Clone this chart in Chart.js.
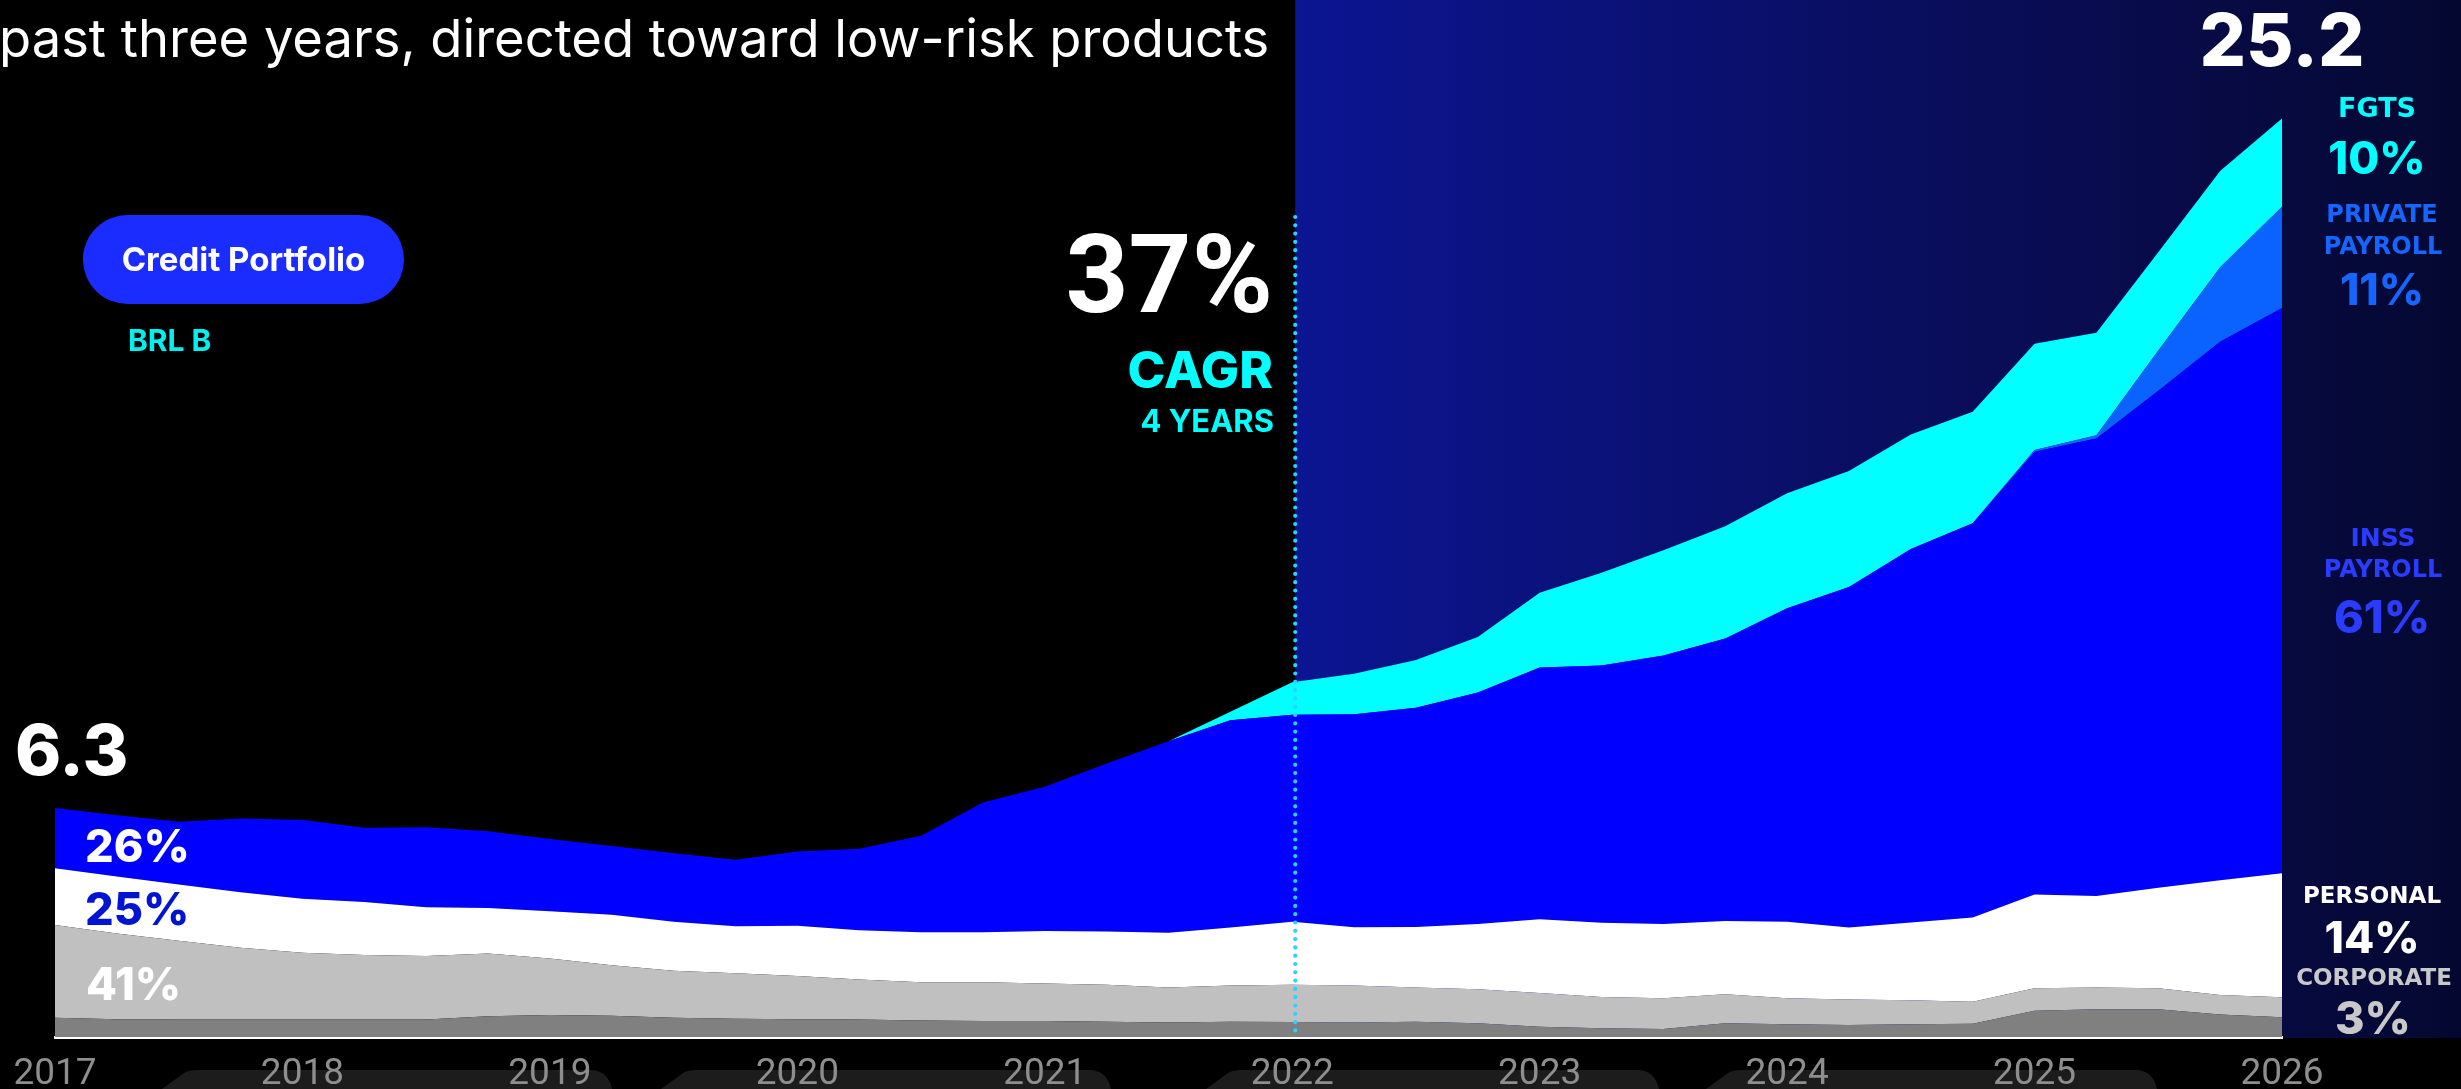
<!DOCTYPE html>
<html>
<head>
<meta charset="utf-8">
<script src="https://cdn.jsdelivr.net/npm/chart.js@4.4.1/dist/chart.umd.min.js"></script>
<style>
	html, body { margin: 0; padding: 0; background: #000; }
	#wrap { position: relative; width: 2461px; height: 1089px; }
</style>
</head>
<body>
<div id="wrap"><canvas id="portfolio"></canvas></div>
<script>
// |-----------|
// |   Data    |
// |-----------|

// quarters from 2017 Q1 to 2026 Q1 (37 points)
const periods = []
for (let y = 2017; y <= 2026; y++) {
	for (let q = 1; q <= 4; q++) {
		if (y === 2026 && q > 1) break
		periods.push(y + ' Q' + q)
	}
}

// BRL billions, stacked from the bottom
const otherCredit = [0.53, 0.49, 0.48, 0.48, 0.48, 0.48, 0.48, 0.57, 0.60, 0.58, 0.53, 0.50, 0.49, 0.48, 0.45, 0.44, 0.44, 0.42, 0.40, 0.42, 0.41, 0.40, 0.42, 0.38, 0.28, 0.24, 0.22, 0.38, 0.35, 0.33, 0.35, 0.36, 0.72, 0.76, 0.76, 0.62, 0.54]
const corporate = [2.54, 2.35, 2.16, 1.97, 1.83, 1.77, 1.74, 1.72, 1.55, 1.39, 1.29, 1.25, 1.18, 1.10, 1.05, 1.06, 1.03, 1.01, 0.96, 0.99, 1.02, 1.01, 0.94, 0.93, 0.93, 0.86, 0.84, 0.79, 0.71, 0.70, 0.66, 0.61, 0.62, 0.60, 0.58, 0.53, 0.55]
const personal = [1.56, 1.56, 1.54, 1.52, 1.48, 1.45, 1.34, 1.25, 1.30, 1.38, 1.34, 1.29, 1.38, 1.35, 1.37, 1.37, 1.44, 1.46, 1.50, 1.59, 1.73, 1.60, 1.66, 1.79, 2.02, 2.03, 2.04, 2.01, 2.10, 1.97, 2.13, 2.31, 2.57, 2.51, 2.75, 3.15, 3.40]
const inssPayroll = [1.65, 1.68, 1.72, 2.02, 2.16, 2.04, 2.19, 2.10, 1.98, 1.89, 1.88, 1.82, 2.04, 2.23, 2.65, 3.56, 3.95, 4.61, 5.25, 5.69, 5.68, 5.84, 6.01, 6.35, 6.90, 7.06, 7.36, 7.75, 8.60, 9.34, 10.24, 10.81, 12.14, 12.54, 13.63, 14.77, 15.50]
const privatePayroll = [0, 0, 0, 0, 0, 0, 0, 0, 0, 0, 0, 0, 0, 0, 0, 0, 0, 0, 0, 0, 0, 0, 0, 0, 0, 0, 0, 0, 0, 0, 0, 0, 0.05, 0.09, 1.11, 2.04, 2.78]
const fgts = [0, 0, 0, 0, 0, 0, 0, 0, 0, 0, 0, 0, 0, 0, 0, 0, 0, 0, 0, 0.23, 0.89, 1.11, 1.31, 1.52, 2.05, 2.54, 2.89, 3.08, 3.15, 3.18, 3.14, 3.06, 2.91, 2.81, 2.69, 2.64, 2.42]

const splitIndex = 20 // 2022 Q1, start of the CAGR window

// |-------------|
// |   Drawing   |
// |-------------|

Chart.defaults.font.family = 'Roboto'

function txt(ctx, text, x, y, font, color, align) {
	ctx.font = font
	ctx.fillStyle = color
	ctx.textAlign = align || 'left'
	ctx.textBaseline = 'alphabetic'
	ctx.fillText(text, x, y)
}

const decor = {
	id: 'decor',
	beforeDraw(chart) {
		const {ctx, chartArea, scales} = chart
		const w = chart.width, h = chart.height
		ctx.save()
		ctx.fillStyle = '#000'
		ctx.fillRect(0, 0, w, h)

		// shaded panel from 2022 onward
		const sx = scales.x.getPixelForValue(splitIndex) + 3
		const grad = ctx.createLinearGradient(sx, 0, w, 0)
		grad.addColorStop(0, '#0c1592')
		grad.addColorStop(0.75, '#080b48')
		grad.addColorStop(1, '#040830')
		ctx.fillStyle = grad
		ctx.fillRect(sx, 0, w - sx, chartArea.bottom + 1)

		// dark tabs under the year labels
		ctx.fillStyle = '#1c1c1c'
		const tabs = [[162, 612], [661, 1111], [1206, 1659], [1706, 2157]]
		for (const [a, b] of tabs) {
			ctx.beginPath()
			ctx.moveTo(a, h)
			ctx.lineTo(a + 18, 1076)
			ctx.quadraticCurveTo(a + 24, 1070, a + 34, 1070)
			ctx.lineTo(b - 22, 1070)
			ctx.quadraticCurveTo(b - 4, 1070, b, h)
			ctx.closePath()
			ctx.fill()
		}
		ctx.restore()
	},
	afterDatasetsDraw(chart) {
		const {ctx, chartArea, scales} = chart
		const x = scales.x.getPixelForValue(splitIndex) + 3
		ctx.save()
		ctx.strokeStyle = '#2ad2ff'
		ctx.lineWidth = 4.2
		ctx.lineCap = 'round'
		ctx.setLineDash([0, 8.3])
		ctx.beginPath()
		ctx.moveTo(x, 217)
		ctx.lineTo(x, chartArea.bottom)
		ctx.stroke()
		ctx.restore()
	},
	afterDraw(chart) {
		const {ctx, scales} = chart
		ctx.save()
		// heading (second line of the slide title)
		txt(ctx, 'past three years, directed toward low-risk products', -1, 57, '400 52.5px Inter', '#fff')

		// pill
		ctx.fillStyle = '#1a2cff'
		ctx.beginPath()
		ctx.roundRect(83, 215, 321, 89, 44.5)
		ctx.fill()
		txt(ctx, 'Credit Portfolio', 243.5, 271, '700 33px Inter', '#fff', 'center')
		txt(ctx, 'BRL B', 128, 351, '700 30px Inter', '#00f0f0')

		// CAGR block
		txt(ctx, '37%', 1273, 312, '700 110px Roboto', '#fff', 'right')
		txt(ctx, 'CAGR', 1273, 388, '800 51px Inter', '#00ffff', 'right')
		txt(ctx, '4 YEARS', 1274, 432, '700 31px Inter', '#00ffff', 'right')

		// totals
		txt(ctx, '6.3', 15, 775, '800 70px Inter', '#fff')
		txt(ctx, '25.2', scales.x.getPixelForValue(periods.length - 1), 66, '800 73px Inter', '#fff', 'center')

		// 2017 mix
		txt(ctx, '26%', 85, 862, '800 45px Inter', '#fff')
		txt(ctx, '25%', 85, 925, '800 45px Inter', '#0014d2')
		txt(ctx, '41%', 86, 1000, '800 45px Inter', '#fff')

		// 2026 mix
		const W = '700 {s}px "DejaVu Sans"'
		txt(ctx, 'FGTS', 2377, 117, W.replace('{s}', 27), '#00ffff', 'center')
		txt(ctx, '10%', 2377, 174, '800 45px Inter', '#00ffff', 'center')
		txt(ctx, 'PRIVATE', 2382, 222, W.replace('{s}', 24), '#1466ff', 'center')
		txt(ctx, 'PAYROLL', 2383, 254, W.replace('{s}', 24), '#1466ff', 'center')
		txt(ctx, '11%', 2382, 305, '800 44px Inter', '#1466ff', 'center')
		txt(ctx, 'INSS', 2383, 546, W.replace('{s}', 25), '#2a3cff', 'center')
		txt(ctx, 'PAYROLL', 2383, 577, W.replace('{s}', 24), '#2a3cff', 'center')
		txt(ctx, '61%', 2382, 633, '800 45px Inter', '#2a3cff', 'center')
		txt(ctx, 'PERSONAL', 2372, 903, W.replace('{s}', 23), '#fff', 'center')
		txt(ctx, '14%', 2372, 953, '800 44px Inter', '#fff', 'center')
		txt(ctx, 'CORPORATE', 2374, 985, W.replace('{s}', 23), '#c8c8c8', 'center')
		txt(ctx, '3%', 2373, 1034, '800 45px Inter', '#c8c8c8', 'center')
		ctx.restore()
	}
}

function layer(label, data, color, fill) {
	return {
		label: label,
		data: data,
		backgroundColor: color,
		borderColor: color,
		borderWidth: 0,
		pointRadius: 0,
		tension: 0,
		fill: fill
	}
}

new Chart(document.getElementById('portfolio'), {
	type: 'line',
	data: {
		labels: periods,
		datasets: [
			layer('Other', otherCredit, '#808080', 'origin'),
			layer('Corporate', corporate, '#c0c0c0', '-1'),
			layer('Personal', personal, '#ffffff', '-1'),
			layer('INSS Payroll', inssPayroll, '#0000ff', '-1'),
			layer('Private Payroll', privatePayroll, '#0b63ff', '-1'),
			layer('FGTS', fgts, '#00ffff', '-1')
		]
	},
	options: {
		responsive: true,
		maintainAspectRatio: false,
		animation: false,
		layout: { padding: { top: 16, left: 55, right: 179, bottom: -23 } },
		plugins: {
			legend: { display: false },
			tooltip: { enabled: false }
		},
		scales: {
			x: {
				grid: { display: false, drawTicks: false },
				border: { display: true, color: '#ffffff', width: 3 },
				ticks: {
					color: '#8e8e8e',
					font: { family: 'Roboto', size: 37, lineHeight: '53px' },
					padding: 11,
					autoSkip: false,
					maxRotation: 0,
					callback: function(v, i) {
						return periods[i].endsWith('Q1') ? periods[i].slice(0, 4) : ''
					}
				}
			},
			y: {
				display: false,
				stacked: true,
				min: 0,
				max: 28
			}
		}
	},
	plugins: [decor]
})
</script>
</body>
</html>
